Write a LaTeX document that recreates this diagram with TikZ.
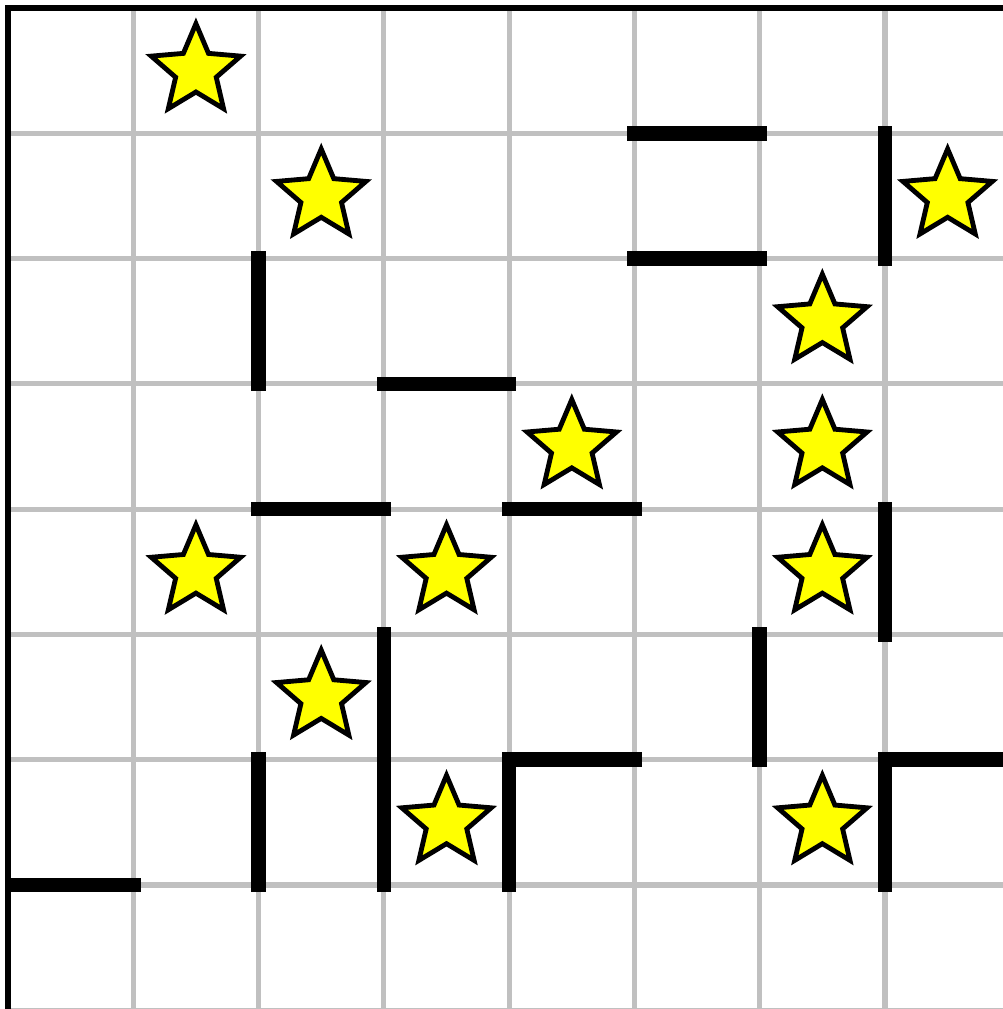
\documentclass[tikz,border=0pt]{standalone}
\usepackage{xcolor}
\usepackage{tikz}
\usetikzlibrary{shapes.geometric}
\definecolor{gridgray}{RGB}{192,192,192}
\definecolor{staryellow}{RGB}{255,255,0}

\begin{document}
\begin{tikzpicture}[
  gridline/.style={gridgray,line width=1.15pt},
  border/.style={black,line width=1.2pt},
  wall/.style={black,line width=3.3pt,line cap=rect},
  starcell/.style={star,star points=5,star point ratio=2.2,draw=black,fill=staryellow,
    line width=1.1pt,inner sep=0pt,minimum size=0.75cm}]
  \useasboundingbox (-0.064,0.064) rectangle (7.94,-7.99);
  \clip (-0.064,0.064) rectangle (7.94,-7.99);
  % ---- light grid and the outer border ----
  \draw[gridline] (0,-9) grid (9,0);
  \draw[border] (0,-9) -- (0,0) -- (9,0);
  % ---- walls ----
  \draw[wall] (5,-1) -- (6,-1);
  \draw[wall] (7,-1) -- (7,-2);
  \draw[wall] (5,-2) -- (6,-2);
  \draw[wall] (2,-2) -- (2,-3);
  \draw[wall] (3,-3) -- (4,-3);
  \draw[wall] (2,-4) -- (3,-4);
  \draw[wall] (4,-4) -- (5,-4);
  \draw[wall] (7,-4) -- (7,-5);
  \draw[wall] (3,-5) -- (3,-7);
  \draw[wall] (6,-5) -- (6,-6);
  \draw[wall] (2,-6) -- (2,-7);
  \draw[wall] (4,-7) -- (4,-6) -- (5,-6);
  \draw[wall] (7,-7) -- (7,-6) -- (8,-6);
  \draw[wall] (0.05,-7) -- (1,-7);
  % ---- stars, given as column/row of the cell ----
  \foreach \c/\r [count=\i] in {1/0,2/1,7/1,6/2,4/3,6/3,1/4,3/4,6/4,2/5,3/6,6/6}{
    \node[starcell] (star\i) at (\c+0.5,-\r-0.5) {};
  }
\end{tikzpicture}
\end{document}
